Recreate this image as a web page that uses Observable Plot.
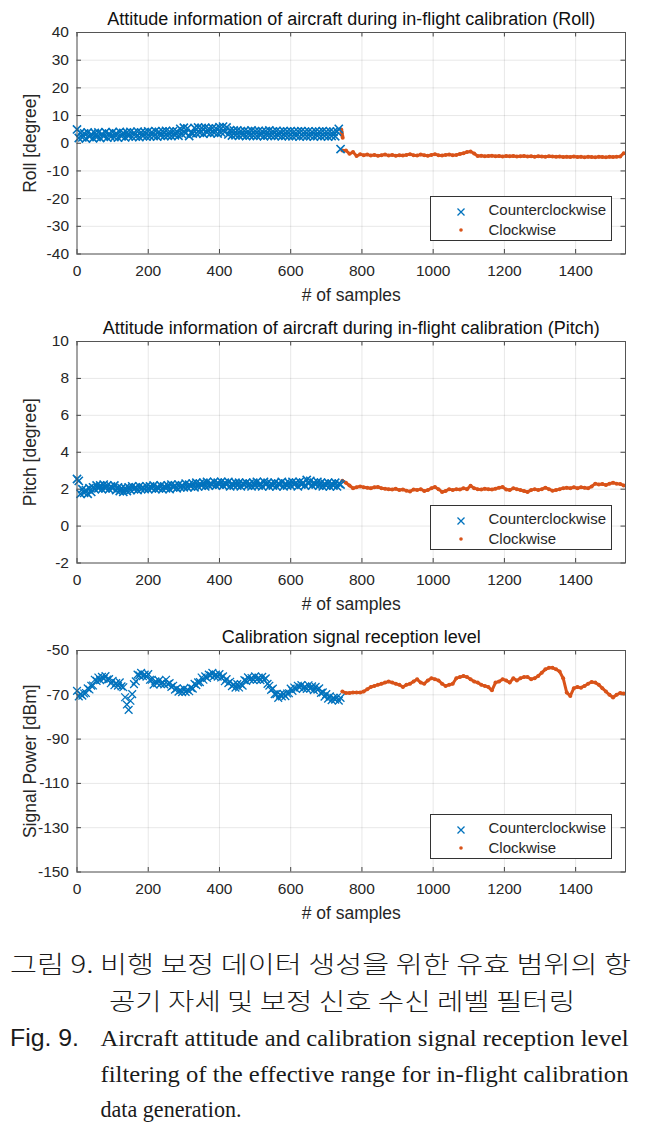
<!DOCTYPE html>
<html><head><meta charset="utf-8">
<script src="https://cdn.jsdelivr.net/npm/d3@7"></script>
<script src="https://cdn.jsdelivr.net/npm/@observablehq/plot@0.6"></script>
<style>
body{margin:0;background:#fff;font-family:"Liberation Sans",Arial,sans-serif;}
#wrap{position:relative;width:651px;}
.panel{position:relative;width:651px;height:309px;}
.panel svg{display:block}
.legend{position:absolute;left:429.5px;top:196px;width:182.5px;height:45px;border:1px solid #333;background:#fff;box-sizing:border-box;font-size:15px;color:#262626}
.legend .row{position:absolute;left:0;height:20px;line-height:20px;}
.legend .lab{position:absolute;left:58px;white-space:nowrap}
.legend svg{position:absolute;left:21px;top:3px}
#caption{display:block}
</style>
</head><body>
<div id="wrap"></div>
<script>
// ---------- data ----------
const xMax = 1540;
const xTicks = [0, 200, 400, 600, 800, 1000, 1200, 1400];
const seriesNames = ["Counterclockwise", "Clockwise"];
const xLabel = "# of samples";

// Counterclockwise: samples 0..740 step 5
const ccwStart = 0, ccwStep = 5;
// Clockwise: samples 745..1535 step 10
const cwStart = 745, cwStep = 10;

// Roll panel
const rollTitle = "Attitude information of aircraft during in-flight calibration (Roll)";
const rollLabel = "Roll [degree]";
const rollDomain = [-40, 40];
const rollTicks = [-40, -30, -20, -10, 0, 10, 20, 30, 40];
const rollCCW = [
 5.0, 1.9, 3.8, 2.1, 3.6, 1.7, 3.9, 2.4, 3.3, 1.8,
 3.7, 2.2, 3.9, 1.9, 3.4, 2.5, 4.0, 2.0, 3.5, 2.3,
 4.0, 2.2, 3.6, 2.0, 4.1, 2.5, 3.7, 2.1, 3.9, 2.6,
 4.1, 2.3, 3.8, 2.4, 4.2, 2.2, 3.9, 2.6, 4.0, 2.4,
 4.3, 2.5, 4.0, 2.6, 4.4, 2.4, 4.1, 2.8, 4.3, 2.6,
 4.5, 2.7, 4.2, 2.6, 4.4, 2.9, 4.3, 2.7, 5.2, 3.3,
 5.6, 3.7, 5.4, 2.6, 3.8, 3.5, 5.5, 3.6, 5.7, 3.8,
 5.5, 3.4, 5.6, 3.9, 5.3, 3.6, 5.5, 3.8, 5.4, 3.5,
 5.8, 3.9, 6.0, 4.1, 5.7, 3.2, 4.7, 2.8, 4.6, 2.9,
 4.6, 2.7, 4.4, 2.9, 4.5, 2.6, 4.3, 2.8, 4.6, 2.7,
 4.4, 2.6, 4.5, 2.9, 4.3, 2.5, 4.4, 2.8, 4.6, 2.7,
 4.3, 2.6, 4.5, 2.8, 4.2, 2.5, 4.4, 2.7, 4.3, 2.6,
 4.4, 2.5, 4.2, 2.7, 4.3, 2.4, 4.4, 2.6, 4.2, 2.5,
 4.3, 2.6, 4.1, 2.4, 4.3, 2.7, 4.2, 2.5, 4.4, 2.6,
 4.2, 2.4, 4.3, 2.6, 4.1, 2.5, 4.2, 5.2, -2.1
];
// clockwise roll: the short jump right at the switch-over (samples 742..746)
const rollCWJumpX = [742, 743, 744, 745, 746];
const rollCWJumpY = [5.0, 4.2, 3.4, 2.6, 2.0];
const rollCW = [
 -2.6, -2.6, -3.8, -3.2, -4.6, -4.0, -4.3, -4.1, -4.4, -4.2,
 -4.5, -4.3, -4.1, -4.4, -4.2, -4.5, -4.3, -4.4, -4.2, -4.0,
 -4.3, -4.4, -4.1, -4.3, -4.5, -4.2, -4.0, -4.3, -4.4, -4.2,
 -4.1, -4.3, -4.2, -3.9, -3.6, -3.2, -3.0, -3.7, -4.6, -4.5,
 -4.7, -4.6, -4.5, -4.7, -4.6, -4.8, -4.6, -4.7, -4.6, -4.8,
 -4.7, -4.6, -4.8, -4.7, -4.9, -4.7, -4.8, -4.9, -4.7, -4.8,
 -4.9, -4.8, -5.0, -4.9, -5.0, -4.8, -5.0, -4.9, -5.1, -4.9,
 -5.0, -5.1, -4.9, -5.0, -5.1, -4.9, -5.0, -4.9, -4.8, -3.6
];

// Pitch panel
const pitchTitle = "Attitude information of aircraft during in-flight calibration (Pitch)";
const pitchLabel = "Pitch [degree]";
const pitchDomain = [-2, 10];
const pitchTicks = [-2, 0, 2, 4, 6, 8, 10];
const pitchCCW = [
 2.55, 2.45, 1.75, 2.0, 1.8, 1.95, 1.75, 2.05, 1.85, 2.1,
 2.0, 2.2, 2.05, 2.2, 2.0, 2.25, 2.05, 2.2, 2.0, 2.15,
 2.05, 2.2, 1.95, 2.1, 1.9, 2.05, 1.85, 2.05, 1.9, 2.1,
 1.95, 2.15, 2.0, 2.1, 1.95, 2.15, 2.0, 2.1, 2.0, 2.15,
 2.0, 2.15, 2.05, 2.2, 2.0, 2.1, 2.05, 2.2, 2.0, 2.15,
 2.05, 2.2, 2.0, 2.25, 2.1, 2.2, 2.05, 2.25, 2.1, 2.2,
 2.1, 2.3, 2.1, 2.25, 2.15, 2.3, 2.1, 2.35, 2.15, 2.3,
 2.2, 2.35, 2.15, 2.4, 2.2, 2.3, 2.25, 2.4, 2.2, 2.35,
 2.25, 2.4, 2.2, 2.35, 2.25, 2.4, 2.15, 2.3, 2.2, 2.35,
 2.2, 2.35, 2.15, 2.3, 2.25, 2.35, 2.2, 2.3, 2.15, 2.35,
 2.2, 2.4, 2.2, 2.3, 2.15, 2.4, 2.25, 2.35, 2.15, 2.3,
 2.2, 2.35, 2.15, 2.3, 2.25, 2.4, 2.15, 2.3, 2.2, 2.35,
 2.2, 2.4, 2.25, 2.35, 2.15, 2.4, 2.25, 2.35, 2.2, 2.5,
 2.3, 2.45, 2.2, 2.35, 2.25, 2.4, 2.2, 2.35, 2.15, 2.3,
 2.2, 2.35, 2.15, 2.3, 2.2, 2.35, 2.15, 2.3, 2.25
];
const pitchCW = [
 2.45, 2.35, 2.2, 2.05, 2.1, 2.15, 2.1, 2.08, 2.05, 2.1,
 2.12, 2.05, 2.02, 2.0, 1.98, 2.02, 1.95, 1.98, 1.92, 1.88,
 1.98, 1.95, 2.0, 1.9, 1.95, 2.05, 2.12, 2.0, 1.85, 1.9,
 2.0, 1.95, 2.0, 1.98, 2.05, 2.0, 2.18, 2.05, 2.0, 1.98,
 2.02, 2.0, 1.98, 2.02, 2.08, 2.12, 1.98, 1.95, 2.05, 2.0,
 1.95, 1.9, 1.85, 1.95, 2.0, 1.95, 2.0, 2.08, 2.0, 1.92,
 1.95, 2.0, 2.05, 2.08, 2.05, 2.1, 2.05, 2.1, 2.08, 2.05,
 2.15, 2.3, 2.25, 2.28, 2.22, 2.3, 2.35, 2.3, 2.28, 2.2
];

// Signal panel
const sigTitle = "Calibration signal reception level";
const sigLabel = "Signal Power [dBm]";
const sigDomain = [-150, -50];
const sigTicks = [-150, -130, -110, -90, -70, -50];
const sigCCW = [
 -68.2, -70.7, -69.7, -70.4, -69.4, -69.2, -67.1, -67.6, -65.9, -65.8,
 -63.2, -63.7, -62.2, -63.4, -61.9, -62.7, -61.6, -63.1, -62.9, -64.8,
 -63.7, -65.7, -64.7, -65.9, -64.4, -66.2, -66.6, -71.1, -74.4, -76.8,
 -72.7, -69.7, -65.2, -63.9, -60.9, -61.2, -60.1, -61.6, -60.9, -61.8,
 -60.7, -63.2, -63.2, -65.4, -63.9, -64.7, -63.6, -65.1, -64.4, -65.3,
 -63.2, -65.2, -64.7, -66.4, -65.9, -67.7, -67.1, -68.6, -67.9, -68.8,
 -67.2, -68.7, -67.7, -68.4, -66.9, -67.2, -65.1, -65.6, -64.4, -64.3,
 -62.2, -63.2, -61.7, -62.4, -60.9, -61.2, -60.1, -61.6, -60.9, -61.8,
 -60.7, -62.2, -61.7, -63.9, -62.9, -64.7, -64.1, -66.1, -65.4, -66.8,
 -65.2, -66.7, -65.2, -65.9, -63.4, -63.7, -62.1, -63.1, -62.4, -63.3,
 -61.7, -63.2, -62.2, -63.4, -61.9, -63.2, -62.6, -65.1, -65.9, -67.8,
 -67.2, -69.7, -69.7, -71.4, -69.9, -70.7, -69.6, -70.6, -69.4, -69.3,
 -67.2, -68.2, -66.7, -67.4, -65.9, -66.7, -65.6, -67.1, -66.4, -67.3,
 -65.7, -67.2, -66.2, -67.9, -66.4, -67.7, -67.1, -69.1, -68.9, -70.8,
 -69.7, -71.7, -70.7, -72.4, -71.4, -72.2, -71.1, -72.6, -71.4
];
const sigCW = [
 -68.5, -69.2, -69.2, -69.0, -69.0, -69.0, -68.5, -67.5, -66.5, -66.0,
 -65.5, -65.0, -64.5, -64.0, -64.5, -65.0, -65.5, -66.5, -65.5, -65.0,
 -64.0, -63.0, -64.5, -65.0, -63.5, -62.5, -63.0, -63.5, -65.0, -66.0,
 -65.5, -65.0, -62.5, -62.0, -61.5, -62.0, -63.0, -64.0, -64.5, -65.5,
 -66.0, -66.5, -68.0, -64.5, -64.0, -63.0, -63.5, -64.5, -62.5, -63.5,
 -62.5, -62.0, -62.0, -63.0, -62.5, -61.5, -60.0, -58.5, -57.8, -57.8,
 -58.5, -59.5, -62.5, -69.0, -70.5, -67.0, -66.5, -66.8, -66.0, -65.0,
 -64.2, -64.5, -65.5, -67.0, -68.5, -70.0, -71.2, -70.0, -69.2, -69.4
];

const captionKo = ["그림 9. 비행 보정 데이터 생성을 위한 유효 범위의 항", "공기 자세 및 보정 신호 수신 레벨 필터링"];
const captionFig = "Fig. 9.";
const captionEn = ["Aircraft attitude and calibration signal reception level", "filtering of the effective range for in-flight calibration", "data generation."];

// ---------- drawing ----------
const BLUE = "#0072BD", ORANGE = "#D95319";
const FONT = "Liberation Sans, Arial, sans-serif";
const W = 651, H = 309, ML = 76.5, MR = 26, MT = 32, MB = 55.5;

function toPts(vals, start, step) { return vals.map((v, i) => ({x: start + i * step, y: v})); }

function panel(cfg) {
  const ccw = toPts(cfg.ccw, ccwStart, ccwStep);
  const cw = toPts(cfg.cw, cwStart, cwStep);
  const extra = cfg.extraX ? cfg.extraX.map((x, i) => ({x, y: cfg.extraY[i]})) : [];
  const [y0, y1] = cfg.domain;
  const ky = (y1 - y0) * 4.5 / (H - MT - MB);
  const kx = xMax * 4.5 / (W - ML - MR);
  const chart = Plot.plot({
    width: W, height: H, marginLeft: ML, marginRight: MR, marginTop: MT, marginBottom: MB,
    style: {fontFamily: FONT, fontSize: "15px", color: "#262626", background: "#fff", overflow: "visible"},
    x: {domain: [0, xMax]},
    y: {domain: cfg.domain},
    marks: [
      Plot.gridX(xTicks, {stroke: "#000", strokeOpacity: 0.12, strokeWidth: 0.8}),
      Plot.gridY(cfg.ticks, {stroke: "#000", strokeOpacity: 0.12, strokeWidth: 0.8}),
      Plot.ruleX(xTicks, {x: d => d, y1: y0, y2: y0 + ky, stroke: "#444"}),
      Plot.ruleX(xTicks, {x: d => d, y1: y1, y2: y1 - ky, stroke: "#444"}),
      Plot.ruleY(cfg.ticks, {y: d => d, x1: 0, x2: kx, stroke: "#444"}),
      Plot.ruleY(cfg.ticks, {y: d => d, x1: xMax, x2: xMax - kx, stroke: "#444"}),
      Plot.axisX(xTicks, {tickSize: 0, tickPadding: 11, label: null, fontSize: 15.5, tickFormat: d => String(d)}),
      Plot.axisY(cfg.ticks, {tickSize: 0, tickPadding: 8, label: null, fontSize: 15.5, tickFormat: d => String(d)}),
      Plot.line(cw, {x: "x", y: "y", stroke: ORANGE, strokeWidth: 3}),
      Plot.dot(cw, {x: "x", y: "y", r: 2, fill: ORANGE}),
      Plot.dot(extra, {x: "x", y: "y", r: 2, fill: ORANGE}),
      Plot.dot(ccw, {x: "x", y: "y", symbol: "times", r: cfg.r, stroke: BLUE, strokeWidth: cfg.sw}),
      Plot.frame({stroke: "#555", strokeWidth: 1}),
      Plot.text([cfg.title], {frameAnchor: "top", lineAnchor: "middle", dy: -13.5, fontSize: 18, fill: "#111"}),
      Plot.text([xLabel], {frameAnchor: "bottom", lineAnchor: "middle", dy: 41.5, fontSize: 17.5, fill: "#262626"}),
      Plot.text([cfg.label], {frameAnchor: "left", textAnchor: "middle", lineAnchor: "middle", rotate: -90, dx: -47, fontSize: 17.5, fill: "#262626"})
    ]
  });
  const div = document.createElement("div");
  div.className = "panel";
  div.appendChild(chart);
  const lg = document.createElement("div");
  lg.className = "legend";
  lg.innerHTML =
    `<svg width="20" height="40" viewBox="0 0 20 40">
       <path d="M5.5 8.5 L12.5 15.5 M12.5 8.5 L5.5 15.5" stroke="${BLUE}" stroke-width="1.3" fill="none"/>
       <circle cx="9" cy="30" r="1.8" fill="${ORANGE}"/>
     </svg>
     <div class="row" style="top:2.5px"><span class="lab">${seriesNames[0]}</span></div>
     <div class="row" style="top:22.5px"><span class="lab">${seriesNames[1]}</span></div>`;
  div.appendChild(lg);
  return div;
}

const wrap = document.getElementById("wrap");
wrap.appendChild(panel({title: rollTitle, label: rollLabel, domain: rollDomain, ticks: rollTicks,
  ccw: rollCCW, cw: rollCW, extraX: rollCWJumpX, extraY: rollCWJumpY, r: 3.8, sw: 1.6}));
wrap.appendChild(panel({title: pitchTitle, label: pitchLabel, domain: pitchDomain, ticks: pitchTicks,
  ccw: pitchCCW, cw: pitchCW, r: 3.8, sw: 1.6}));
wrap.appendChild(panel({title: sigTitle, label: sigLabel, domain: sigDomain, ticks: sigTicks,
  ccw: sigCCW, cw: sigCW, r: 3.6, sw: 1.3}));

// caption
const NS = "http://www.w3.org/2000/svg";
const cap = document.createElementNS(NS, "svg");
cap.setAttribute("id", "caption");
cap.setAttribute("width", W);
cap.setAttribute("height", 1127 - 927);
function addText(str, x, y, len, font, size, extra) {
  const t = document.createElementNS(NS, "text");
  t.setAttribute("x", x); t.setAttribute("y", y);
  if (len) { t.setAttribute("textLength", len); t.setAttribute("lengthAdjust", "spacingAndGlyphs"); }
  t.setAttribute("font-family", font); t.setAttribute("font-size", size);
  t.setAttribute("fill", "#1a1a1a");
  if (extra) for (const k in extra) t.setAttribute(k, extra[k]);
  t.textContent = str;
  cap.appendChild(t);
}
const KO = "Noto Sans CJK KR, sans-serif", SERIF = "Liberation Serif, Times New Roman, serif";
addText(captionKo[0], 10, 973 - 927, 621, KO, 24, {"font-weight": 300});
addText(captionKo[1], 109, 1010 - 927, 466, KO, 24, {"font-weight": 300});
addText(captionFig, 10, 1046 - 927, 69, FONT, 23);
addText(captionEn[0], 100.5, 1046 - 927, 528, SERIF, 24);
addText(captionEn[1], 100.5, 1082 - 927, 528, SERIF, 24);
addText(captionEn[2], 100.5, 1117 - 927, 141, SERIF, 24);
wrap.appendChild(cap);
</script>
</body></html>
